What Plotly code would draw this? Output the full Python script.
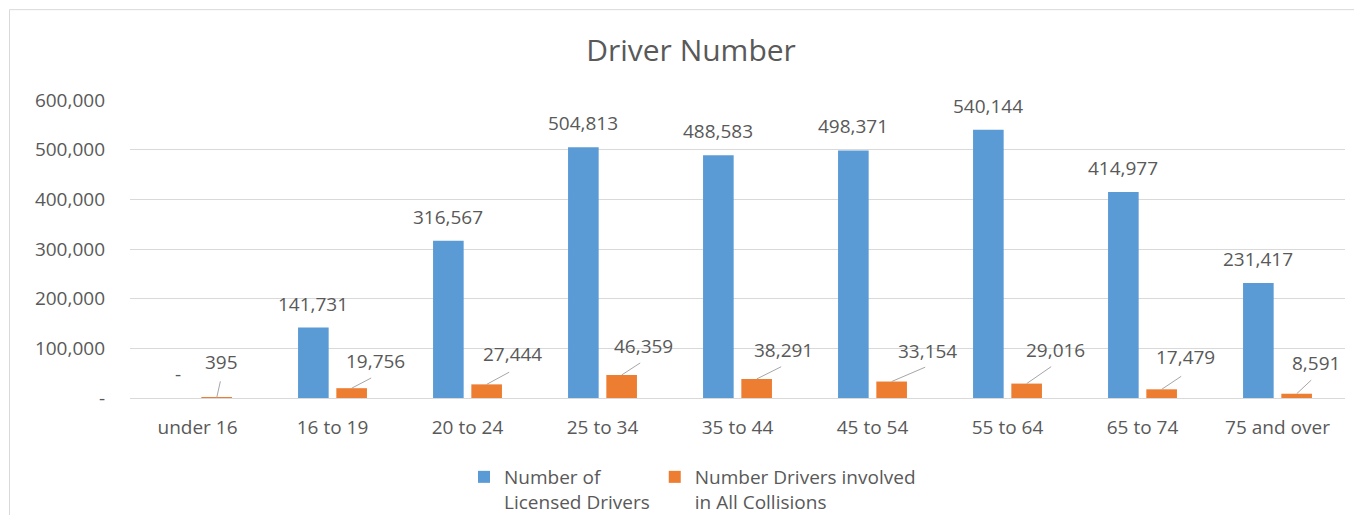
import plotly.graph_objects as go

# ---- data ----
categories = ["under 16", "16 to 19", "20 to 24", "25 to 34", "35 to 44",
              "45 to 54", "55 to 64", "65 to 74", "75 and over"]
licensed_drivers = [0, 141731, 316567, 504813, 488583, 498371, 540144, 414977, 231417]
collision_drivers = [395, 19756, 27444, 46359, 38291, 33154, 29016, 17479, 8591]
series_names = ["Number of<br>Licensed Drivers", "Number Drivers involved<br>in All Collisions"]
y_tick_values = [0, 100000, 200000, 300000, 400000, 500000, 600000]
y_tick_labels = ["-", "100,000", "200,000", "300,000", "400,000", "500,000", "600,000"]

# ---- styles / label placement (pixels) ----
BLUE = "#5B9BD5"
ORANGE = "#ED7D31"
TEXT = "#595959"
GRID = "#D9D9D9"
FONT = "Open Sans"
# offset of the orange label's centre from its bar top
label_offsets = [(5, -36), (24, -27), (26, -30), (22, -29), (27, -29),
                 (36, -31), (29, -34), (24, -32), (19, -31)]
# offset of the leader line's far end from its bar top
leader_ends = [(4, -18), (21, -11), (24, -13), (20, -13), (26, -13),
               (35, -15), (26, -18), (21, -14), (16, -15)]
BAR_SHIFT = 19.2  # half a bar slot in px


def fmt(v):
    return "-" if v == 0 else f"{v:,}"


fig = go.Figure()
fig.add_trace(go.Bar(x=categories, y=licensed_drivers, name=series_names[0],
                     marker=dict(color=BLUE, line=dict(width=0))))
fig.add_trace(go.Bar(x=categories, y=collision_drivers, name=series_names[1],
                     marker=dict(color=ORANGE, line=dict(width=0))))

annotations = []
for cat, v in zip(categories, licensed_drivers):
    annotations.append(dict(x=cat, y=v, xref="x", yref="y", text=fmt(v),
                            showarrow=False, xshift=-BAR_SHIFT, yshift=24,
                            xanchor="center", yanchor="middle",
                            font=dict(family=FONT, size=19, color=TEXT)))
for cat, v, (dx, dy), (lx, ly) in zip(categories, collision_drivers,
                                      label_offsets, leader_ends):
    # leader line
    annotations.append(dict(x=cat, y=v, xref="x", yref="y", text="",
                            showarrow=True, arrowhead=0, arrowwidth=1,
                            arrowcolor="#A6A6A6", standoff=0,
                            ax=lx, ay=ly, axref="pixel", ayref="pixel",
                            xshift=BAR_SHIFT))
    # label
    annotations.append(dict(x=cat, y=v, xref="x", yref="y", text=fmt(v),
                            showarrow=False, xanchor="center", yanchor="middle",
                            xshift=BAR_SHIFT + dx, yshift=-dy,
                            font=dict(family=FONT, size=19, color=TEXT)))

fig.update_layout(
    width=1354, height=515,
    margin=dict(l=130, r=9, t=100, b=116.5),
    paper_bgcolor="white", plot_bgcolor="white",
    barmode="group", bargap=0.433, bargroupgap=0.2,
    font=dict(family=FONT, size=19, color=TEXT),
    title=dict(text="Driver Number", x=691 / 1354, xref="container", xanchor="center",
               y=1 - 50 / 515, yref="container", yanchor="middle",
               font=dict(family=FONT, size=30, color=TEXT)),
    showlegend=True,
    legend=dict(orientation="h", xref="container", yref="container",
                x=464 / 1354, xanchor="left", y=1 - 458 / 515, yanchor="top",
                valign="top",
                font=dict(family=FONT, size=19, color=TEXT),
                bgcolor="rgba(0,0,0,0)", borderwidth=0),
    annotations=annotations,
    shapes=[dict(type="rect", xref="paper", yref="paper",
                 x0=(9.5 - 130) / 1215, x1=(1380 - 130) / 1215,
                 y0=(398.5 - 530) / 298.5, y1=(398.5 - 9.5) / 298.5,
                 line=dict(color=GRID, width=1), fillcolor="rgba(0,0,0,0)",
                 layer="below")],
)
fig.update_xaxes(showline=True, linecolor=GRID, linewidth=1, showgrid=False,
                 ticks="", ticklabelstandoff=12,
                 tickfont=dict(family=FONT, size=19, color=TEXT))
fig.update_yaxes(range=[0, 600000], tickvals=y_tick_values, ticktext=y_tick_labels,
                 showgrid=True, gridcolor=GRID, gridwidth=1, zeroline=False,
                 showline=False, ticks="", ticklabelstandoff=24,
                 tickfont=dict(family=FONT, size=19, color=TEXT))

fig.write_html("out.html", config={"displayModeBar": False},
               post_script="document.body.style.margin='0';document.body.style.overflow='hidden';")
